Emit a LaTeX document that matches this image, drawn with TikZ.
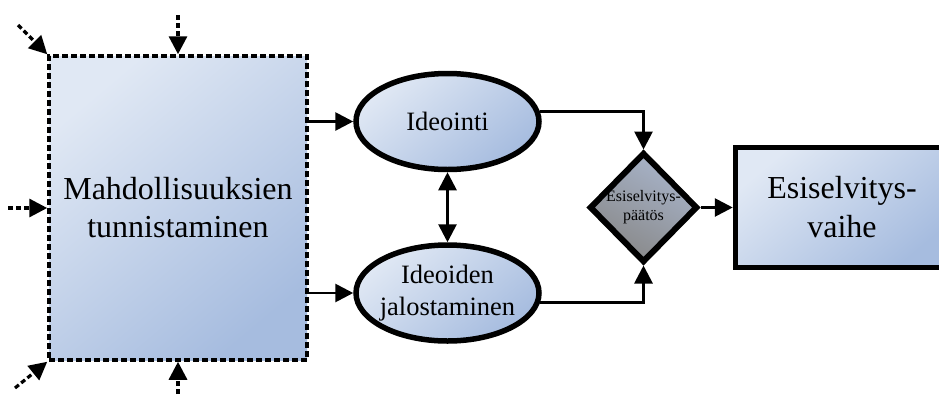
\documentclass[tikz,border=0pt]{standalone}
\usepackage{fontspec}
\setmainfont{Liberation Serif}
\usetikzlibrary{arrows.meta,shapes.geometric}
\definecolor{boxlight}{HTML}{E0E8F4}
\definecolor{boxmid}{HTML}{BCCDE8}
\definecolor{boxdark}{HTML}{A6BCDF}
\definecolor{graylight}{HTML}{A8B4CA}
\definecolor{graymid}{HTML}{9A9FA8}
\definecolor{graydark}{HTML}{888888}
\tikzset{
  bluefill/.style={top color=boxlight, middle color=boxmid, bottom color=boxdark, shading angle=40},
  bigbox/.style={rectangle, bluefill, draw=black, line width=3.5pt,
    dash pattern=on 6pt off 3pt, inner sep=0pt, align=center,
    minimum width=258pt, minimum height=304pt,
    font=\fontsize{32}{38}\selectfont},
  oval/.style={ellipse, bluefill, draw=black, line width=5.5pt,
    inner xsep=-5pt, inner ysep=0pt, align=center,
    minimum width=183pt, minimum height=96pt,
    font=\fontsize{26.5}{32}\selectfont},
  decision/.style={diamond, top color=graylight, middle color=graymid,
    bottom color=graydark, shading angle=-30, draw=black, line width=6pt,
    inner sep=0pt, align=center, minimum width=108pt, minimum height=110pt,
    font=\fontsize{16}{19}\selectfont},
  phasebox/.style={rectangle, bluefill, draw=black, line width=5.5pt,
    inner sep=0pt, align=center, minimum width=213pt, minimum height=120pt,
    font=\fontsize{32}{39}\selectfont},
  bigtip/.tip={Triangle[length=18pt,width=18pt]},
  flow/.style={draw=black, line width=2.8pt, -bigtip},
  feed/.style={draw=black, line width=3.2pt, dash pattern=on 5pt off 3pt, -bigtip},
}
\begin{document}
\begin{tikzpicture}[x=1pt,y=-1pt]
\clip (0,0) rectangle (939,394);

% main blocks
\node[bigbox] (mt) at (178,208) {Mahdollisuuksien\\tunnistaminen};
\node[oval] (ide) at (447.5,121.5) {Ideointi};
\node[oval] (jal) at (447.5,293) {Ideoiden\\jalostaminen};
\node[decision] (pa) at (643.5,207.5) {Esiselvitys-\\päätös};
\node[phasebox] (ev) at (842,207.5) {Esiselvitys-\\vaihe};

% incoming inputs of the first block
\coordinate (inTL) at (18,25);
\coordinate (inT) at (178,15);
\coordinate (inL) at (8,208);
\coordinate (inBL) at (15,388);
\coordinate (inB) at (178,394);
\draw[feed] (inTL) -- (mt.north west);
\draw[feed] (inT) -- (mt.north);
\draw[feed] (inL) -- (mt.west);
\draw[feed] (inBL) -- (mt.south west);
\draw[feed] (inB) -- (mt.south);

% flow between blocks
\draw[flow] (mt.east |- ide.west) -- (ide.west);
\draw[flow] (mt.east |- jal.west) -- (jal.west);
\draw[flow, bigtip-bigtip] (ide.south) -- (jal.north);
\draw[flow] (ide.6.5) -| (pa.north);
\draw[flow] (jal.-6.5) -| (pa.south);
\draw[flow] (pa.east) -- (ev.west);
\end{tikzpicture}
\end{document}
